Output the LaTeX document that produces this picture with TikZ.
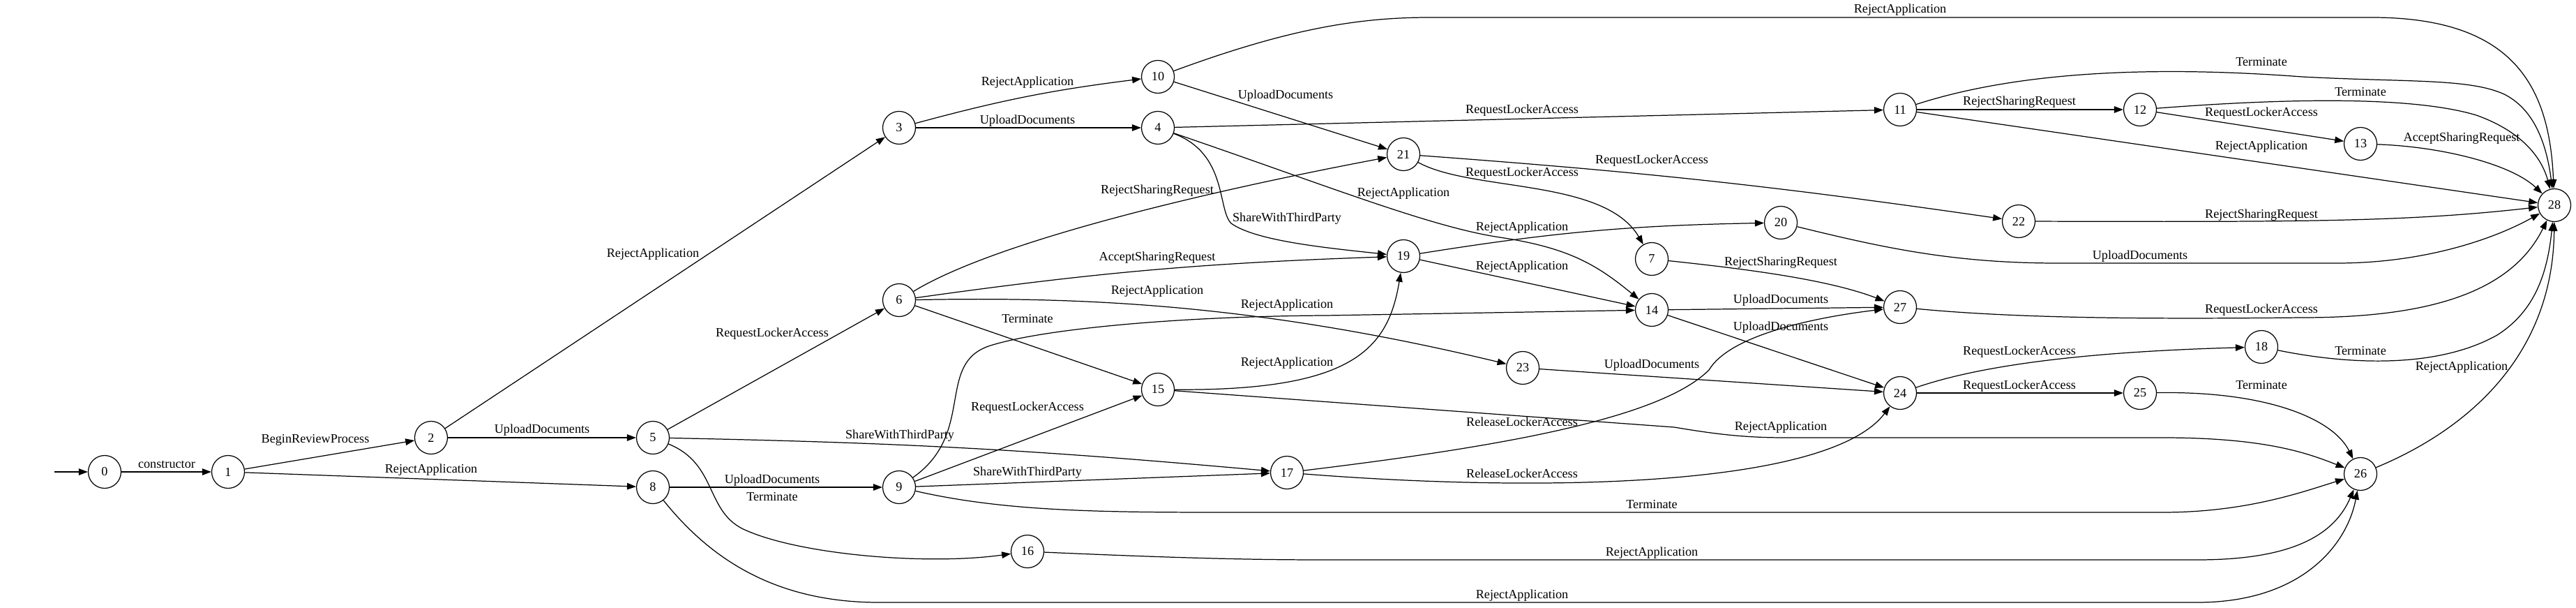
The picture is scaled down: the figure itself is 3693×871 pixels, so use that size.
\documentclass[tikz,border=0pt]{standalone}
\usepackage{fontspec}
\setmainfont{Liberation Serif}
\usetikzlibrary{arrows.meta}
\begin{document}
\begin{tikzpicture}[x=0.02cm,y=-0.02cm,
        st/.style={circle,draw,line width=0.7pt,minimum size=0.94cm,inner sep=0pt,
            font=\fontsize{10.36}{12}\selectfont},
        trans/.style={line width=0.7pt,-{Triangle[length=0.26cm,width=0.19cm]}},
        lbl/.style={inner sep=0pt,text height=7pt,text depth=2.3pt,
            font=\fontsize{10.36}{12}\selectfont}]
        \useasboundingbox (0,0) rectangle (3693,871);
        \node[st] (n0) at (150,676) {0};
        \node[st] (n1) at (327,676) {1};
        \node[st] (n2) at (618,627) {2};
        \node[st] (n5) at (936,627) {5};
        \node[st] (n8) at (936,698) {8};
        \node[st] (n3) at (1289,183) {3};
        \node[st] (n6) at (1289,430) {6};
        \node[st] (n9) at (1289,698) {9};
        \node[st] (n16) at (1473,790) {16};
        \node[st] (n10) at (1660,110) {10};
        \node[st] (n4) at (1660,183) {4};
        \node[st] (n15) at (1660,558) {15};
        \node[st] (n17) at (1845,677) {17};
        \node[st] (n21) at (2012,221) {21};
        \node[st] (n19) at (2012,367) {19};
        \node[st] (n23) at (2183,527) {23};
        \node[st] (n7) at (2368,371) {7};
        \node[st] (n14) at (2368,444) {14};
        \node[st] (n20) at (2553,319) {20};
        \node[st] (n11) at (2724,157) {11};
        \node[st] (n27) at (2724,440) {27};
        \node[st] (n24) at (2724,563) {24};
        \node[st] (n22) at (2894,317) {22};
        \node[st] (n12) at (3068,157) {12};
        \node[st] (n25) at (3068,563) {25};
        \node[st] (n18) at (3242,497) {18};
        \node[st] (n13) at (3384,206) {13};
        \node[st] (n26) at (3384,679) {26};
        \node[st] (n28) at (3662,294) {28};
        \coordinate (start) at (78,676);

        \draw[trans] (start) -- (n0);
        \draw[trans] (n0) -- (n1) node[lbl] at (239,666) {constructor};
        \draw[trans] (n1) -- (n2) node[lbl] at (452,630) {BeginReviewProcess};
        \draw[trans] (n1) -- (n8) node[lbl] at (618,673) {RejectApplication};
        \draw[trans] (n2) -- (n3) node[lbl] at (936,364) {RejectApplication};
        \draw[trans] (n2) -- (n5) node[lbl] at (777,616) {UploadDocuments};
        \draw[trans] (n5) -- (n6) node[lbl] at (1107,478) {RequestLockerAccess};
        \draw[trans] (n5) to[bend left=2] (n17) node[lbl] at (1290,624) {ShareWithThirdParty};
        \draw[trans] (n5) .. controls (1030,665) and (1010,735) .. (1070,760)
            .. controls (1150,795) and (1330,810) .. (n16)
            node[lbl] at (1107,713) {Terminate};
        \draw[trans] (n8) -- (n9) node[lbl] at (1107,688) {UploadDocuments};
        \draw[trans] (n8) .. controls (1010,790) and (1100,863) .. (1260,863) -- (3150,863)
            .. controls (3300,863) and (3365,780) .. (n26)
            node[lbl] at (2182,853) {RejectApplication};
        \draw[trans] (n3) to[bend left=4] (n10) node[lbl] at (1473,118) {RejectApplication};
        \draw[trans] (n3) -- (n4) node[lbl] at (1473,173) {UploadDocuments};
        \draw[trans] (n6) .. controls (1420,350) and (1700,280) .. (n21)
            node[lbl] at (1659,273) {RejectSharingRequest};
        \draw[trans] (n6) to[bend left=3] (n19) node[lbl] at (1659,369) {AcceptSharingRequest};
        \draw[trans] (n6) .. controls (1550,425) and (1800,435) .. (n23)
            node[lbl] at (1659,417) {RejectApplication};
        \draw[trans] (n6) -- (n15) node[lbl] at (1473,458) {Terminate};
        \draw[trans] (n9) .. controls (1400,620) and (1340,520) .. (1420,495)
            .. controls (1500,470) and (1700,453) .. (1900,452) -- (n14)
            node[lbl] at (1845,437) {RejectApplication};
        \draw[trans] (n9) -- (n15) node[lbl] at (1473,584) {RequestLockerAccess};
        \draw[trans] (n9) -- (n17) node[lbl] at (1473,677) {ShareWithThirdParty};
        \draw[trans] (n9) .. controls (1450,735) and (1600,734) .. (1800,734) -- (3100,734)
            .. controls (3220,734) and (3300,705) .. (n26)
            node[lbl] at (2368,724) {Terminate};
        \draw[trans] (n16) .. controls (1700,800) and (1800,802) .. (1900,802) -- (3150,802)
            .. controls (3280,802) and (3345,770) .. (n26)
            node[lbl] at (2368,792) {RejectApplication};
        \draw[trans] (n15) .. controls (1940,560) and (1990,500) .. (n19)
            node[lbl] at (1845,520) {RejectApplication};
        \draw[trans] (n15) -- (2400,612) .. controls (2460,622) and (2500,627) .. (2560,627)
            -- (3100,627) .. controls (3250,627) and (3310,650) .. (n26)
            node[lbl] at (2553,612) {RejectApplication};
        \draw[trans] (n10) .. controls (1850,40) and (1950,25) .. (2050,25) -- (3400,25)
            .. controls (3600,25) and (3655,120) .. (n28)
            node[lbl] at (2724,14) {RejectApplication};
        \draw[trans] (n10) -- (n21) node[lbl] at (1843,137) {UploadDocuments};
        \draw[trans] (n4) -- (n11) node[lbl] at (2182,158) {RequestLockerAccess};
        \draw[trans] (n4) .. controls (1760,220) and (1745,300) .. (1765,320)
            .. controls (1800,345) and (1900,355) .. (n19)
            node[lbl] at (1845,313) {ShareWithThirdParty};
        \draw[trans] (n4) .. controls (1900,265) and (2050,325) .. (2150,340)
            .. controls (2250,355) and (2290,380) .. (n14)
            node[lbl] at (2012,277) {RejectApplication};
        \draw[trans] (n21) to[bend left=2] (n22) node[lbl] at (2368,230) {RequestLockerAccess};
        \draw[trans] (n21) .. controls (2110,275) and (2300,255) .. (n7)
            node[lbl] at (2182,248) {RequestLockerAccess};
        \draw[trans] (n19) to[bend left=4] (n20) node[lbl] at (2182,326) {RejectApplication};
        \draw[trans] (n19) -- (n14) node[lbl] at (2182,382) {RejectApplication};
        \draw[trans] (n7) .. controls (2500,385) and (2620,400) .. (n27)
            node[lbl] at (2553,376) {RejectSharingRequest};
        \draw[trans] (n14) -- (n27) node[lbl] at (2553,430) {UploadDocuments};
        \draw[trans] (n14) -- (n24) node[lbl] at (2553,469) {UploadDocuments};
        \draw[trans] (n23) -- (n24) node[lbl] at (2368,523) {UploadDocuments};
        \draw[trans] (n17) .. controls (2150,640) and (2380,600) .. (2450,530)
            .. controls (2480,480) and (2600,455) .. (n27)
            node[lbl] at (2182,606) {ReleaseLockerAccess};
        \draw[trans] (n17) .. controls (2200,705) and (2620,700) .. (n24)
            node[lbl] at (2182,680) {ReleaseLockerAccess};
        \draw[trans] (n20) .. controls (2700,355) and (2800,377) .. (2950,377) -- (3350,377)
            .. controls (3480,377) and (3580,340) .. (n28)
            node[lbl] at (3068,367) {UploadDocuments};
        \draw[trans] (n22) .. controls (3300,318) and (3450,318) .. (n28)
            node[lbl] at (3242,308) {RejectSharingRequest};
        \draw[trans] (n27) .. controls (2900,457) and (3100,457) .. (3300,455)
            .. controls (3480,455) and (3600,420) .. (n28)
            node[lbl] at (3242,444) {RequestLockerAccess};
        \draw[trans] (n24) .. controls (2820,530) and (2950,505) .. (n18)
            node[lbl] at (2895,504) {RequestLockerAccess};
        \draw[trans] (n24) -- (n25) node[lbl] at (2895,553) {RequestLockerAccess};
        \draw[trans] (n18) .. controls (3380,525) and (3500,525) .. (3580,480)
            .. controls (3635,445) and (3652,390) .. (n28)
            node[lbl] at (3384,504) {Terminate};
        \draw[trans] (n25) .. controls (3250,560) and (3345,600) .. (n26)
            node[lbl] at (3242,553) {Terminate};
        \draw[trans] (n26) .. controls (3550,610) and (3660,500) .. (n28)
            node[lbl] at (3529,526) {RejectApplication};
        \draw[trans] (n11) .. controls (2900,100) and (3100,95) .. (3300,110)
            .. controls (3450,118) and (3540,112) .. (3590,135)
            .. controls (3630,155) and (3650,200) .. (n28)
            node[lbl] at (3242,90) {Terminate};
        \draw[trans] (n11) -- (n12) node[lbl] at (2895,146) {RejectSharingRequest};
        \draw[trans] (n11) -- (n28) node[lbl] at (3242,210) {RejectApplication};
        \draw[trans] (n12) .. controls (3250,143) and (3450,135) .. (3550,165)
            .. controls (3620,190) and (3645,230) .. (n28)
            node[lbl] at (3384,133) {Terminate};
        \draw[trans] (n12) -- (n13) node[lbl] at (3242,162) {RequestLockerAccess};
        \draw[trans] (n13) .. controls (3500,210) and (3600,235) .. (n28)
            node[lbl] at (3529,198) {AcceptSharingRequest};
    \end{tikzpicture}
\end{document}
